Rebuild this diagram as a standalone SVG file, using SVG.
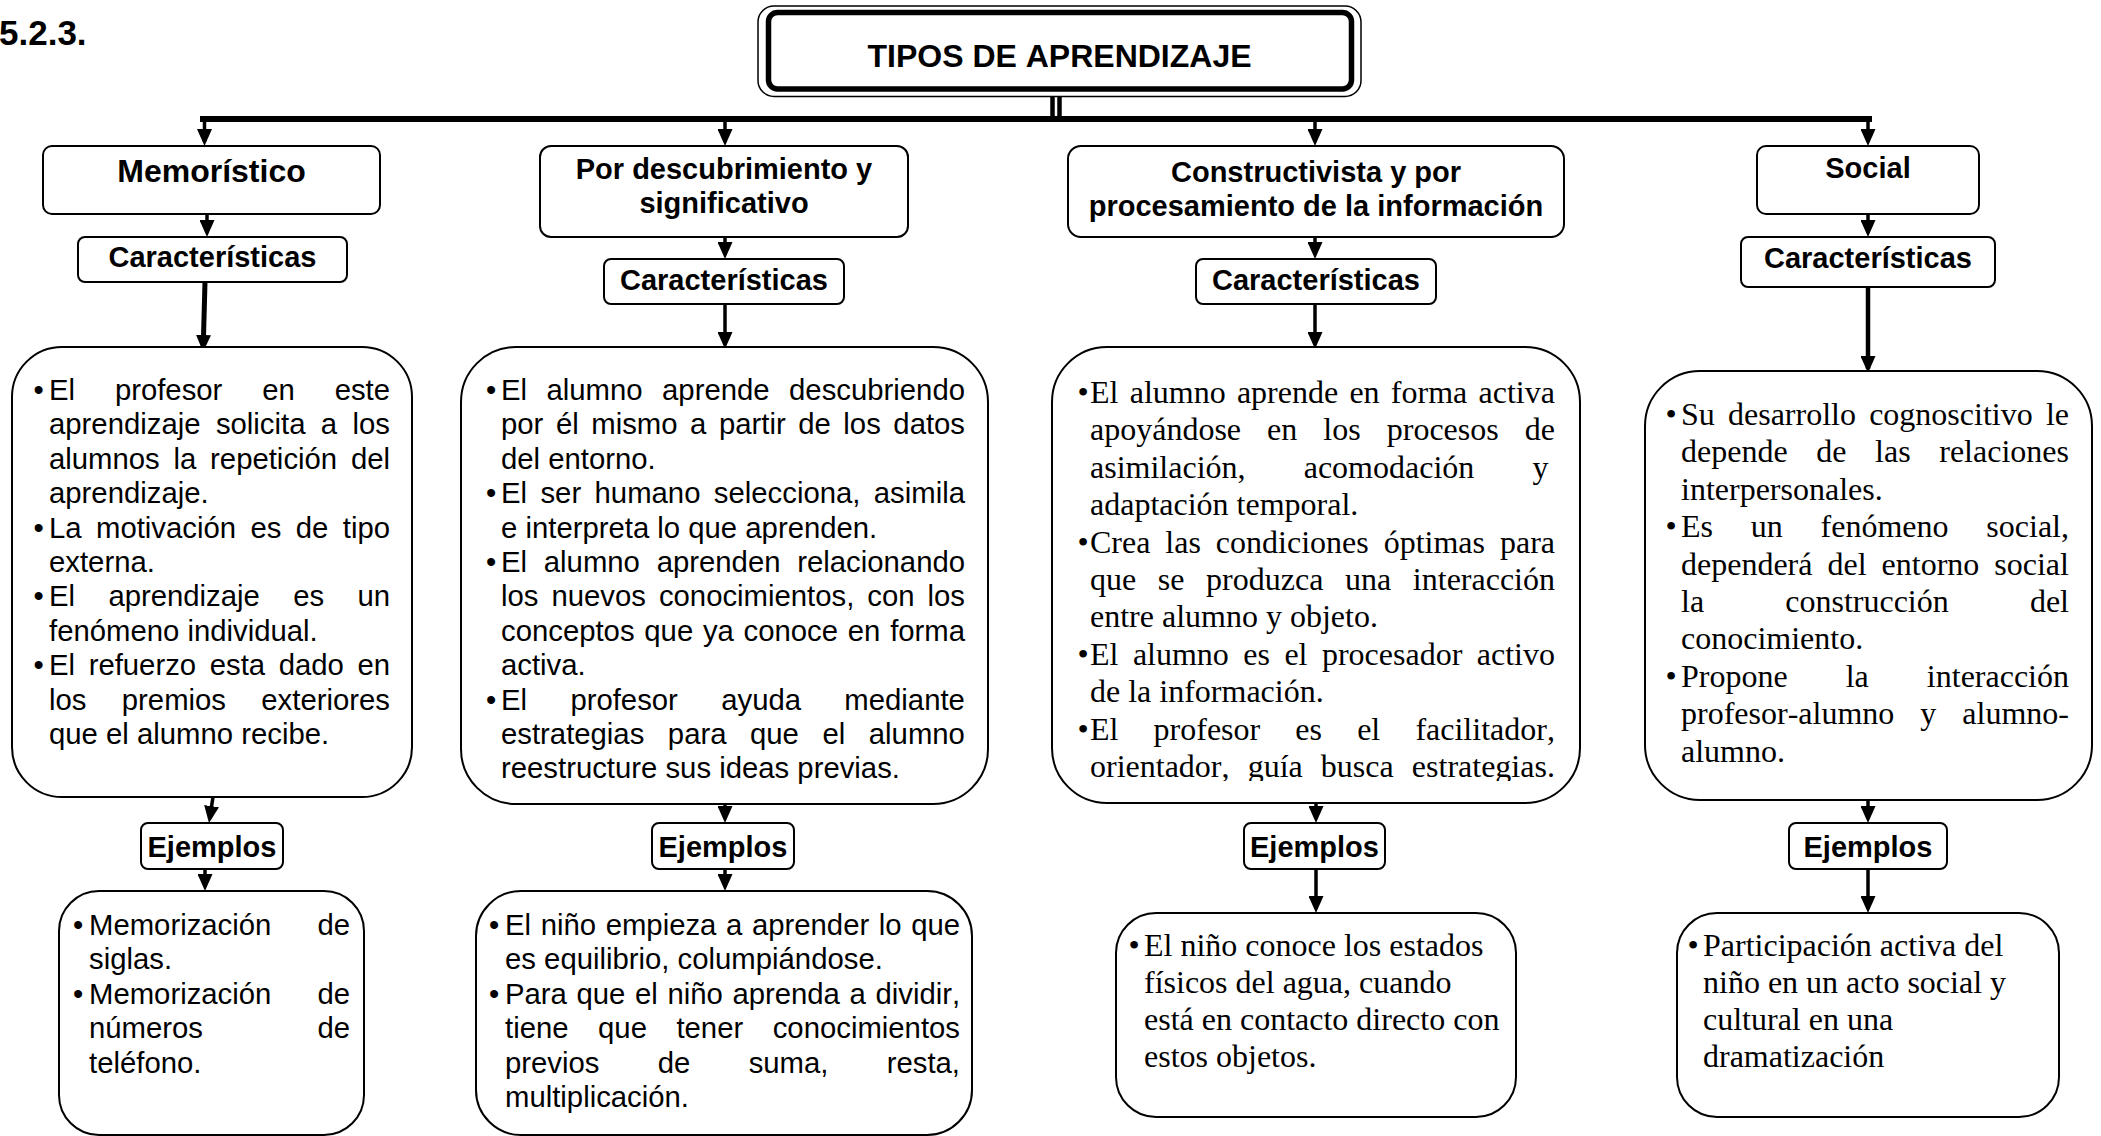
<svg xmlns="http://www.w3.org/2000/svg" width="2101" height="1136" viewBox="0 0 2101 1136">
<style>
.box{fill:#fff;stroke:#000;stroke-width:2}
.hd{font-family:"Liberation Sans",Arial,sans-serif;font-weight:bold;text-anchor:middle;font-size:29px;fill:#000;font-kerning:none}
.a{font-family:"Liberation Sans",Arial,sans-serif;font-size:29.3px;fill:#000;font-kerning:none}
.t{font-family:"Liberation Serif","Times New Roman",serif;font-size:32px;fill:#000;font-kerning:none}
.ln{stroke:#000;stroke-width:3.5;fill:none}
</style>
<defs>
<marker id="ah" markerUnits="userSpaceOnUse" viewBox="0 0 17 15" markerWidth="17" markerHeight="15" refX="13" refY="7.5" orient="auto">
<path d="M0,0 L17,7.5 L0,15 z" fill="#000"/>
</marker>
<clipPath id="clipC"><rect x="1050" y="340" width="540" height="441"/></clipPath>
</defs>
<rect width="2101" height="1136" fill="#fff"/>
<text x="-1" y="45" style="font-family:'Liberation Sans',Arial,sans-serif;font-weight:bold;font-size:35px">5.2.3.</text>

<g id="connectors">
<line x1="1052.5" y1="96" x2="1052.5" y2="117" stroke="#000" stroke-width="4.5"/>
<line x1="1059.5" y1="96" x2="1059.5" y2="117" stroke="#000" stroke-width="4.5"/>
<line x1="200" y1="119" x2="1872" y2="119" stroke="#000" stroke-width="6"/>
<line class="ln" x1="204.5" y1="119" x2="204.5" y2="142" marker-end="url(#ah)"/>
<line class="ln" x1="725" y1="119" x2="725" y2="142" marker-end="url(#ah)"/>
<line class="ln" x1="1315" y1="119" x2="1315" y2="142" marker-end="url(#ah)"/>
<line class="ln" x1="1868" y1="119" x2="1868" y2="142" marker-end="url(#ah)"/>
<line class="ln" x1="207" y1="214" x2="207" y2="233" marker-end="url(#ah)"/>
<line class="ln" x1="725" y1="237" x2="725" y2="255" marker-end="url(#ah)"/>
<line class="ln" x1="1315" y1="237" x2="1315" y2="255" marker-end="url(#ah)"/>
<line class="ln" x1="1868" y1="214" x2="1868" y2="233" marker-end="url(#ah)"/>
<line class="ln" style="stroke-width:5" x1="205" y1="282" x2="203.2" y2="348" marker-end="url(#ah)"/>
<line class="ln" x1="725" y1="304" x2="725" y2="345" marker-end="url(#ah)"/>
<line class="ln" x1="1315" y1="304" x2="1315" y2="345" marker-end="url(#ah)"/>
<line class="ln" style="stroke-width:4.5" x1="1868" y1="287" x2="1868" y2="369" marker-end="url(#ah)"/>
<line class="ln" x1="213" y1="797" x2="209.6" y2="819" marker-end="url(#ah)"/>
<line class="ln" x1="725" y1="804" x2="725" y2="819" marker-end="url(#ah)"/>
<line class="ln" x1="1316" y1="803" x2="1316" y2="819" marker-end="url(#ah)"/>
<line class="ln" x1="1868" y1="800" x2="1868" y2="819" marker-end="url(#ah)"/>
<line class="ln" x1="205" y1="869" x2="205" y2="887" marker-end="url(#ah)"/>
<line class="ln" x1="725" y1="869" x2="725" y2="887" marker-end="url(#ah)"/>
<line class="ln" x1="1316" y1="869" x2="1316" y2="909" marker-end="url(#ah)"/>
<line class="ln" x1="1868" y1="869" x2="1868" y2="909" marker-end="url(#ah)"/>
</g>

<g id="title">
<rect x="758" y="6" width="603" height="90.5" rx="16" fill="#fff" stroke="#000" stroke-width="1.5"/>
<rect x="768.5" y="12.5" width="583" height="76.5" rx="9" fill="#fff" stroke="#000" stroke-width="5.5"/>
<text class="hd" x="1059.5" y="67" style="font-size:32px">TIPOS DE APRENDIZAJE</text>
</g>

<g id="memoristico">
<rect class="box" x="43" y="146" width="337" height="68" rx="9"/>
<text class="hd" x="211.5" y="182" style="font-size:32px">Memorístico</text>
</g>
<g id="descubrimiento">
<rect class="box" x="540" y="146" width="368" height="91" rx="11"/>
<text class="hd" x="724" y="179">Por descubrimiento y</text>
<text class="hd" x="724" y="213">significativo</text>
</g>
<g id="constructivista">
<rect class="box" x="1068" y="146" width="496" height="91" rx="13"/>
<text class="hd" x="1316" y="182">Constructivista y por</text>
<text class="hd" x="1316" y="216">procesamiento de la información</text>
</g>
<g id="social">
<rect class="box" x="1757" y="146" width="222" height="68" rx="9"/>
<text class="hd" x="1868" y="178">Social</text>
</g>

<g id="caract-memo">
<rect class="box" x="78" y="237" width="269" height="45" rx="7"/>
<text class="hd" x="212.5" y="267">Características</text>
</g>
<g id="caract-desc">
<rect class="box" x="604" y="259" width="240" height="45" rx="7"/>
<text class="hd" x="724" y="290">Características</text>
</g>
<g id="caract-constr">
<rect class="box" x="1196" y="259" width="240" height="45" rx="7"/>
<text class="hd" x="1316" y="290">Características</text>
</g>
<g id="caract-social">
<rect class="box" x="1741" y="237" width="254" height="50" rx="7"/>
<text class="hd" x="1868" y="268">Características</text>
</g>

<g id="texto-memo">
<rect class="box" x="12" y="347" width="400" height="450" rx="50"/>
<text class="a" y="400"><tspan x="33.4">•</tspan><tspan x="49" style="word-spacing:31.7px">El profesor en este</tspan></text>
<text class="a" x="49" y="434.4" style="word-spacing:7.27px">aprendizaje solicita a los</text>
<text class="a" x="49" y="468.8" style="word-spacing:5.64px">alumnos la repetición del</text>
<text class="a" x="49" y="503.2">aprendizaje.</text>
<text class="a" y="537.6"><tspan x="33.4">•</tspan><tspan x="49" style="word-spacing:6.27px">La motivación es de tipo</tspan></text>
<text class="a" x="49" y="572">externa.</text>
<text class="a" y="606.4"><tspan x="33.4">•</tspan><tspan x="49" style="word-spacing:25.2px">El aprendizaje es un</tspan></text>
<text class="a" x="49" y="640.8">fenómeno individual.</text>
<text class="a" y="675.2"><tspan x="33.4">•</tspan><tspan x="49" style="word-spacing:5.45px">El refuerzo esta dado en</tspan></text>
<text class="a" x="49" y="709.6" style="word-spacing:27.2px">los premios exteriores</text>
<text class="a" x="49" y="744">que el alumno recibe.</text>
</g>

<g id="texto-desc">
<rect class="box" x="461" y="347" width="527" height="457" rx="55"/>
<text class="a" y="400"><tspan x="485.9">•</tspan><tspan x="501" style="word-spacing:11.33px">El alumno aprende descubriendo</tspan></text>
<text class="a" x="501" y="434.4" style="word-spacing:4.41px">por él mismo a partir de los datos</text>
<text class="a" x="501" y="468.8">del entorno.</text>
<text class="a" y="503.2"><tspan x="485.9">•</tspan><tspan x="501" style="word-spacing:5.27px">El ser humano selecciona, asimila</tspan></text>
<text class="a" x="501" y="537.6">e interpreta lo que aprenden.</text>
<text class="a" y="572"><tspan x="485.9">•</tspan><tspan x="501" style="word-spacing:8.63px">El alumno aprenden relacionando</tspan></text>
<text class="a" x="501" y="606.4" style="word-spacing:4.85px">los nuevos conocimientos, con los</text>
<text class="a" x="501" y="640.8" style="word-spacing:1.6px">conceptos que ya conoce en forma</text>
<text class="a" x="501" y="675.2">activa.</text>
<text class="a" y="709.6"><tspan x="485.9">•</tspan><tspan x="501" style="word-spacing:35.2px">El profesor ayuda mediante</tspan></text>
<text class="a" x="501" y="744" style="word-spacing:15.4px">estrategias para que el alumno</text>
<text class="a" x="501" y="778.4">reestructure sus ideas previas.</text>
</g>

<g id="texto-constr">
<rect class="box" x="1052" y="347" width="528" height="456" rx="55"/>
<g clip-path="url(#clipC)">
<text class="t" y="403"><tspan x="1077.4">•</tspan><tspan x="1090" style="word-spacing:3.24px">El alumno aprende en forma activa</tspan></text>
<text class="t" x="1090" y="440.4" style="word-spacing:18.05px">apoyándose en los procesos de</text>
<text class="t" x="1090" y="477.8" style="word-spacing:50.2px">asimilación, acomodación y</text>
<text class="t" x="1090" y="515.2">adaptación temporal.</text>
<text class="t" y="552.6"><tspan x="1077.4">•</tspan><tspan x="1090" style="word-spacing:6.95px">Crea las condiciones óptimas para</tspan></text>
<text class="t" x="1090" y="590" style="word-spacing:13.63px">que se produzca una interacción</text>
<text class="t" x="1090" y="627.4">entre alumno y objeto.</text>
<text class="t" y="664.8"><tspan x="1077.4">•</tspan><tspan x="1090" style="word-spacing:6.44px">El alumno es el procesador activo</tspan></text>
<text class="t" x="1090" y="702.2">de la información.</text>
<text class="t" y="739.6"><tspan x="1077.4">•</tspan><tspan x="1090" style="word-spacing:27.15px">El profesor es el facilitador,</tspan></text>
<text class="t" x="1090" y="777" style="word-spacing:10.13px">orientador, guía busca estrategias.</text>
</g>
</g>

<g id="texto-social">
<rect class="box" x="1645" y="371" width="447" height="429" rx="55"/>
<text class="t" y="425"><tspan x="1665.4">•</tspan><tspan x="1681" style="word-spacing:5.2px">Su desarrollo cognoscitivo le</tspan></text>
<text class="t" x="1681" y="462.4" style="word-spacing:20.63px">depende de las relaciones</text>
<text class="t" x="1681" y="499.8">interpersonales.</text>
<text class="t" y="537.2"><tspan x="1665.4">•</tspan><tspan x="1681" style="word-spacing:29.8px">Es un fenómeno social,</tspan></text>
<text class="t" x="1681" y="574.6" style="word-spacing:7px">dependerá del entorno social</text>
<text class="t" x="1681" y="612" style="word-spacing:73.15px">la construcción del</text>
<text class="t" x="1681" y="649.4">conocimiento.</text>
<text class="t" y="686.8"><tspan x="1665.4">•</tspan><tspan x="1681" style="word-spacing:50.05px">Propone la interacción</tspan></text>
<text class="t" x="1681" y="724.2" style="word-spacing:18.05px">profesor-alumno y alumno-</text>
<text class="t" x="1681" y="761.6">alumno.</text>
</g>

<g id="ejemplos-memo">
<rect class="box" x="141" y="823" width="142" height="46" rx="7"/>
<text class="hd" x="212" y="857">Ejemplos</text>
</g>
<g id="ejemplos-desc">
<rect class="box" x="652" y="823" width="142" height="46" rx="7"/>
<text class="hd" x="723" y="857">Ejemplos</text>
</g>
<g id="ejemplos-constr">
<rect class="box" x="1244" y="823" width="141" height="46" rx="7"/>
<text class="hd" x="1314.5" y="857">Ejemplos</text>
</g>
<g id="ejemplos-social">
<rect class="box" x="1789" y="823" width="158" height="46" rx="7"/>
<text class="hd" x="1868" y="857">Ejemplos</text>
</g>

<g id="ej-memo">
<rect class="box" x="59" y="891" width="305" height="244" rx="40"/>
<text class="a" y="935"><tspan x="72.9">•</tspan><tspan x="89" style="word-spacing:37.9px">Memorización de</tspan></text>
<text class="a" x="89" y="969.4">siglas.</text>
<text class="a" y="1003.8"><tspan x="72.9">•</tspan><tspan x="89" style="word-spacing:37.9px">Memorización de</tspan></text>
<text class="a" x="89" y="1038.2" style="word-spacing:106.3px">números de</text>
<text class="a" x="89" y="1072.6">teléfono.</text>
</g>

<g id="ej-desc">
<rect class="box" x="476" y="891" width="496" height="244" rx="45"/>
<text class="a" y="935"><tspan x="488.9">•</tspan><tspan x="505" style="word-spacing:1.47px">El niño empieza a aprender lo que</tspan></text>
<text class="a" x="505" y="969.4">es equilibrio, columpiándose.</text>
<text class="a" y="1003.8"><tspan x="488.9">•</tspan><tspan x="505" style="word-spacing:1.47px">Para que el niño aprenda a dividir,</tspan></text>
<text class="a" x="505" y="1038.2" style="word-spacing:21.37px">tiene que tener conocimientos</text>
<text class="a" x="505" y="1072.6" style="word-spacing:50.17px">previos de suma, resta,</text>
<text class="a" x="505" y="1107">multiplicación.</text>
</g>

<g id="ej-constr">
<rect class="box" x="1116" y="913" width="400" height="204" rx="40"/>
<text class="t" y="956"><tspan x="1128.4">•</tspan><tspan x="1144">El niño conoce los estados</tspan></text>
<text class="t" x="1144" y="993">físicos del agua, cuando</text>
<text class="t" x="1144" y="1030">está en contacto directo con</text>
<text class="t" x="1144" y="1067">estos objetos.</text>
</g>

<g id="ej-social">
<rect class="box" x="1677" y="913" width="382" height="204" rx="40"/>
<text class="t" y="956"><tspan x="1687.4">•</tspan><tspan x="1703">Participación activa del</tspan></text>
<text class="t" x="1703" y="993">niño en un acto social y</text>
<text class="t" x="1703" y="1030">cultural en una</text>
<text class="t" x="1703" y="1067">dramatización</text>
</g>
</svg>
